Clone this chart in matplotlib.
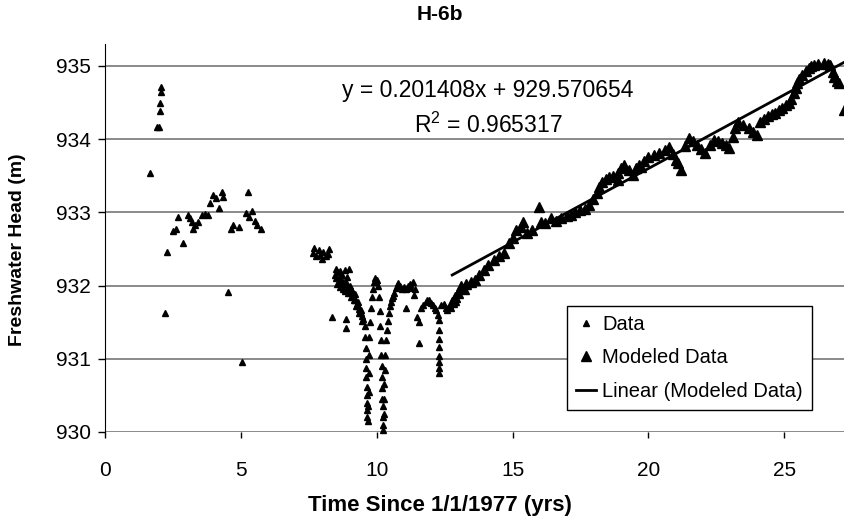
import numpy as np
import matplotlib.pyplot as plt

plt.rcParams['font.family'] = ['Liberation Sans', 'DejaVu Sans']
plt.rcParams['mathtext.fontset'] = 'custom'
plt.rcParams['mathtext.rm'] = 'Liberation Sans'

# observed heads (years since 1/1/1977, m)
data_t = [1.66, 1.92, 1.97, 2.03, 2.03, 2.05, 2.07, 2.21, 2.29, 2.51, 2.62, 2.69, 2.88,
          3.06, 3.14, 3.21, 3.25, 3.32, 3.43, 3.58, 3.69, 3.80, 3.87, 3.99, 4.10, 4.21,
          4.32, 4.35, 4.54, 4.65, 4.72, 4.94, 5.06, 5.20, 5.28, 5.31, 5.42, 5.53, 5.61, 5.76,
          7.64, 7.70, 7.78, 7.86, 7.93, 8.00, 8.04, 8.12, 8.19, 8.23,
          8.34, 8.86, 8.86,
          8.45, 8.50, 8.52, 8.58, 8.62, 8.66, 8.70, 8.74, 8.78, 8.82, 8.86, 8.90, 8.94,
          8.98, 9.02, 9.06, 9.10, 9.14, 9.18, 9.22, 9.26, 9.30, 9.34, 9.38, 9.42, 9.46, 9.50,
          8.55, 8.65, 8.75, 8.85, 8.95, 9.05, 9.15, 9.25, 9.35, 9.45,
          8.60, 8.72, 8.84, 8.96, 9.08, 9.20, 9.32, 9.44,
          9.56, 9.58, 9.60, 9.60, 9.62, 9.62, 9.63, 9.64, 9.64, 9.65, 9.66, 9.67, 9.68,
          9.70, 9.70, 9.72, 9.72,
          9.76, 9.80, 9.84, 9.88, 9.90, 9.94, 9.98, 10.02, 10.06,
          10.10, 10.12, 10.14, 10.15, 10.16, 10.18, 10.19, 10.20, 10.21, 10.22, 10.23,
          10.24, 10.25, 10.26, 10.27, 10.28, 10.30,
          10.32, 10.35, 10.38, 10.41, 10.44, 10.48, 10.52, 10.56, 10.60, 10.65, 10.70,
          10.75, 10.80, 10.85,
          10.92, 11.00, 11.08, 11.15, 11.22, 11.28, 11.33, 11.37, 11.40,
          11.07, 11.50, 11.55, 11.55,
          11.62, 11.70, 11.80, 11.86, 11.92, 12.00, 12.07, 12.13, 12.18, 12.24, 12.28,
          12.30, 12.30, 12.30, 12.30, 12.30, 12.30, 12.30,
          12.38, 12.47, 12.55, 12.60, 12.68, 12.73]
data_h = [933.54, 934.17, 934.17, 934.39, 934.50, 934.64, 934.71, 931.63, 932.46, 932.75,
          932.77, 932.94, 932.58, 932.96, 932.92, 932.87, 932.77, 932.83, 932.87, 932.96,
          932.98, 932.96, 933.13, 933.24, 933.20, 933.06, 933.28, 933.21, 931.91, 932.77,
          932.83, 932.80, 930.96, 932.99, 933.28, 932.94, 933.02, 932.88, 932.83, 932.77,
          932.45, 932.51, 932.40, 932.49, 932.42, 932.36, 932.46, 932.40, 932.43, 932.50,
          931.57, 931.54, 931.42,
          932.15, 932.22, 932.10, 932.18, 932.05, 932.20, 932.08, 932.15, 932.02, 932.21,
          932.05, 932.12, 931.98, 932.22, 932.00, 931.95, 931.92, 931.88, 931.85, 931.80,
          931.75, 931.72, 931.68, 931.65, 931.62, 931.58, 931.55,
          932.02, 931.98, 931.95, 931.92, 931.90, 931.85, 931.80, 931.72, 931.62, 931.52,
          932.10, 932.06, 932.04, 931.98, 931.93, 931.88, 931.78, 931.66,
          931.45, 931.30, 931.15, 931.00, 930.88, 930.75, 930.62, 930.50, 930.40, 930.30,
          930.20, 930.15, 930.35, 930.55, 930.80, 931.05, 931.30,
          931.50, 931.70, 931.85, 931.95, 932.05, 932.10, 932.05, 932.08, 932.00,
          931.85, 931.65, 931.45, 931.25, 931.05, 930.90, 930.75, 930.60, 930.45, 930.35,
          930.20, 930.10, 930.03, 930.25, 930.45, 930.65, 930.85,
          931.05, 931.25, 931.40, 931.52, 931.63, 931.72, 931.78, 931.83, 931.86, 931.90,
          931.97, 932.00, 932.03, 932.00,
          931.96, 931.98, 931.95, 932.00, 932.02, 931.97, 932.05, 931.87, 931.95,
          931.70, 931.57, 931.50, 931.21,
          931.69, 931.74, 931.78, 931.80, 931.80, 931.76, 931.73, 931.70, 931.67, 931.60,
          931.53, 931.40, 931.27, 931.16, 931.04, 930.95, 930.87, 930.80,
          931.73, 931.75, 931.70, 931.67, 931.72, 931.69]

# modeled heads used for the trend
model_t = [12.78, 12.84, 12.90, 12.99, 13.10, 13.20, 13.30, 13.47, 13.60, 13.75, 13.95,
           14.10, 14.30, 14.50, 14.70, 14.87, 15.00, 15.13, 15.30, 15.40, 15.55, 15.70,
           15.98, 16.05, 16.20, 16.40, 16.60, 16.80, 17.00, 17.16, 17.30, 17.50, 17.65,
           17.80, 17.95, 18.10, 18.20, 18.30, 18.45, 18.56, 18.70, 18.90, 18.90, 19.00,
           19.10, 19.30, 19.45, 19.55, 19.67, 19.74, 19.85, 20.00, 20.20, 20.40, 20.60,
           20.77, 20.90, 21.00, 21.10, 21.20, 21.35, 21.50, 21.65, 21.78, 21.95, 22.10,
           22.25, 22.40, 22.55, 22.70, 22.85, 22.95, 23.10, 23.20, 23.30, 23.50, 23.70,
           23.85, 24.00, 24.10, 24.25, 24.40, 24.55, 24.65, 24.80, 24.90, 25.05, 25.17,
           25.25, 25.35, 25.42, 25.47, 25.55, 25.65, 25.80, 25.90, 26.00, 26.10, 26.25,
           26.45, 26.60, 26.70, 26.80, 26.85, 26.95, 27.00, 27.20]
model_h = [931.78, 931.80, 931.85, 931.90, 932.00, 931.95, 932.02, 932.05, 932.08, 932.15,
           932.21, 932.28, 932.35, 932.40, 932.44, 932.58, 932.65, 932.76, 932.80, 932.87,
           932.72, 932.76, 933.07, 932.87, 932.85, 932.92, 932.88, 932.92, 932.95, 932.96,
           933.00, 933.03, 933.05, 933.10, 933.18, 933.26, 933.35, 933.42, 933.45, 933.48,
           933.50, 933.54, 933.44, 933.60, 933.65, 933.58, 933.51, 933.60, 933.65, 933.62,
           933.70, 933.76, 933.78, 933.81, 933.85, 933.89, 933.80, 933.72, 933.67, 933.58,
           933.90, 934.02, 933.98, 933.92, 933.86, 933.81, 933.92, 933.99, 933.97, 933.95,
           933.92, 933.88, 934.03, 934.15, 934.24, 934.20, 934.15, 934.10, 934.06, 934.24,
           934.28, 934.31, 934.34, 934.36, 934.40, 934.42, 934.46, 934.49, 934.55, 934.63,
           934.70, 934.77, 934.82, 934.88, 934.93, 934.97, 935.00, 935.01, 935.03, 935.04,
           935.02, 935.01, 934.92, 934.85, 934.80, 934.77, 934.40]

slope = 0.201408
intercept = 929.570654
r2 = 0.965317

x_ticks = [0, 5, 10, 15, 20, 25]
y_ticks = [930, 931, 932, 933, 934, 935]

fig = plt.figure(figsize=(8.44, 5.22), dpi=100)
ax = fig.add_axes([105 / 844, 90 / 522, 739 / 844, 388 / 522])

ax.plot(data_t, data_h, linestyle='none', marker='^', color='black',
        markersize=5, label='Data', clip_on=False)
ax.plot(model_t, model_h, linestyle='none', marker='^', color='black',
        markersize=6.5, label='Modeled Data', clip_on=False)

fit_x = np.array([min(model_t), max(model_t)])
ax.plot(fit_x, slope * fit_x + intercept, color='black', linewidth=2,
        label='Linear (Modeled Data)', clip_on=False)

ax.set_xlim(0, 27.2)
ax.set_ylim(930, 935.3)
ax.set_xticks(x_ticks)
ax.set_yticks(y_ticks)
ax.yaxis.grid(True, color='#777777', linewidth=1.2)
ax.set_axisbelow(True)
for s in ['top', 'right', 'bottom']:
    ax.spines[s].set_visible(False)
ax.spines['left'].set_color('black')
ax.tick_params(axis='y', length=5, width=1, pad=5, labelsize=15)
ax.tick_params(axis='x', length=4, width=1, pad=17, labelsize=15)

ax.text(0.518, 0.881, 'y = %.6fx + %.6f' % (slope, intercept),
        transform=ax.transAxes, ha='center', va='center', fontsize=16.5)
ax.text(0.518, 0.791, 'R$^{2}$ = %.6f' % r2,
        transform=ax.transAxes, ha='center', va='center', fontsize=16.5)

fig.text(440 / 844, 1 - 15 / 522, 'H-6b', ha='center', va='center',
         fontsize=15, fontweight='bold')
fig.text(440 / 844, 1 - 505 / 522, 'Time Since 1/1/1977 (yrs)', ha='center',
         va='center', fontsize=16, fontweight='bold')
fig.text(18 / 844, 1 - 250 / 522, 'Freshwater Head (m)', ha='center',
         va='center', rotation=90, fontsize=14, fontweight='bold')

leg = ax.legend(loc='lower left', bbox_to_anchor=(0.625, 0.057), fontsize=14.5,
                frameon=True, fancybox=False, edgecolor='black', framealpha=1,
                handlelength=1.0, handletextpad=0.3, borderpad=0.45,
                labelspacing=0.72, borderaxespad=0)
leg.get_frame().set_linewidth(1)

fig.savefig('out.png', dpi=100)
